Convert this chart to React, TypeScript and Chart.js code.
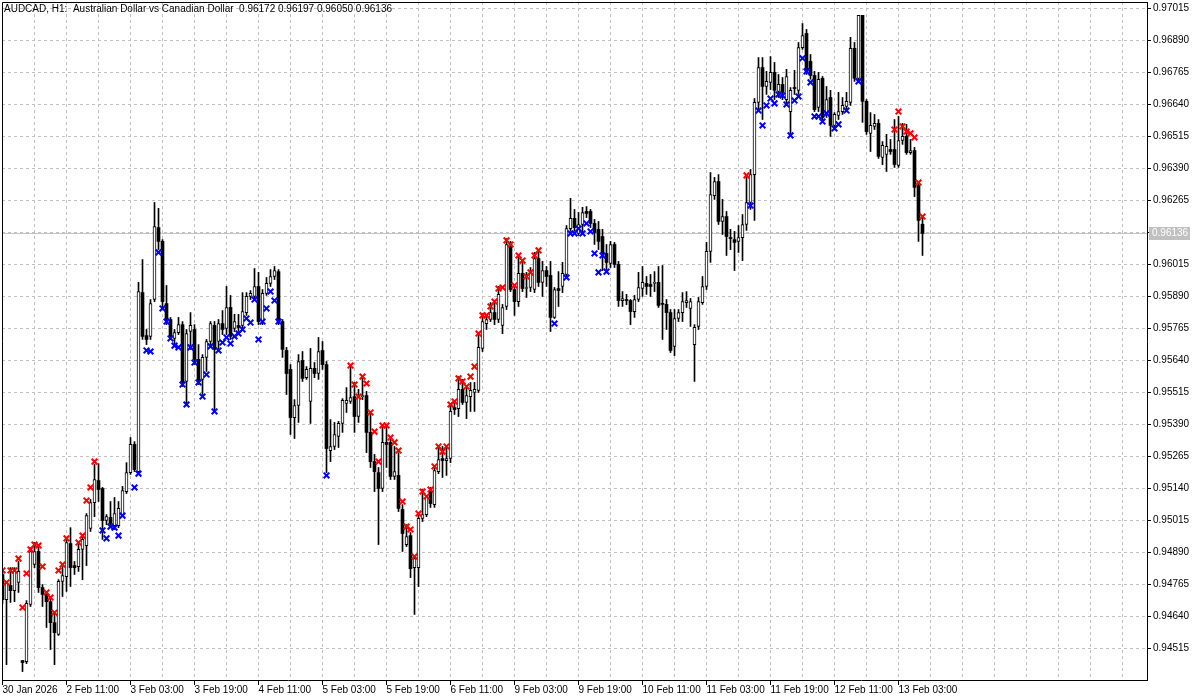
import React, { useEffect, useRef } from "react";
import { Chart, registerables } from "chart.js";

Chart.register(...registerables);

// ---- Chart texts ----
const chartTitle =
  "AUDCAD, H1:  Australian Dollar vs Canadian Dollar  0.96172 0.96197 0.96050 0.96136";
const lastPrice = 0.96136;

// Date labels, one every 16 H1 bars starting at bar 0
const timeLabels = [
  "30 Jan 2026", "2 Feb 11:00", "3 Feb 03:00", "3 Feb 19:00", "4 Feb 11:00",
  "5 Feb 03:00", "5 Feb 19:00", "6 Feb 11:00", "9 Feb 03:00", "9 Feb 19:00",
  "10 Feb 11:00", "11 Feb 03:00", "11 Feb 19:00", "12 Feb 11:00", "13 Feb 03:00",
];

// Price axis tick values
const priceTicks = [
  0.94515, 0.9464, 0.94765, 0.9489, 0.95015, 0.9514, 0.95265, 0.9539, 0.95515,
  0.9564, 0.95765, 0.9589, 0.96015, 0.9614, 0.96265, 0.9639, 0.96515, 0.9664,
  0.96765, 0.9689, 0.97015,
];

// ---- OHLC series (H1 bars, oldest first) ----
const opens = [
  0.94804, 0.94706, 0.94761, 0.94741, 0.94773, 0.94468, 0.94464, 0.94687, 0.94843, 0.94894,
  0.94753, 0.94726, 0.94698, 0.94616, 0.9457, 0.94777, 0.94796, 0.94925, 0.94839, 0.94835,
  0.94902, 0.94917, 0.94984, 0.95085, 0.95171, 0.9514, 0.95015, 0.95027, 0.94995, 0.94995,
  0.95038, 0.95128, 0.95202, 0.95312, 0.95206, 0.95905, 0.95737, 0.95734, 0.95878, 0.96159,
  0.96105, 0.95862, 0.958, 0.95726, 0.95749, 0.9578, 0.95558, 0.95753, 0.95761, 0.95644,
  0.95566, 0.95652, 0.95714, 0.95777, 0.95714, 0.95784, 0.95765, 0.95847, 0.95765, 0.95777,
  0.95777, 0.95827, 0.9589, 0.9589, 0.95929, 0.95792, 0.95902, 0.95941, 0.95968, 0.95987,
  0.95792, 0.95679, 0.95605, 0.95417, 0.95464, 0.9564, 0.95573, 0.9548, 0.95609, 0.95589,
  0.95679, 0.95624, 0.95288, 0.95304, 0.95343, 0.95394, 0.95472, 0.9548, 0.95499, 0.95421,
  0.95499, 0.95503, 0.95359, 0.95245, 0.95202, 0.9514, 0.9532, 0.9532, 0.95187, 0.95191,
  0.95058, 0.94921, 0.94956, 0.94831, 0.94831, 0.95023, 0.95038, 0.95128, 0.95077, 0.95206,
  0.95257, 0.95249, 0.95257, 0.95456, 0.95452, 0.95527, 0.95476, 0.95499, 0.95515, 0.95523,
  0.95687, 0.95784, 0.958, 0.95827, 0.958, 0.95777, 0.95851, 0.96093, 0.95917, 0.9587,
  0.9598, 0.95921, 0.95925, 0.95917, 0.96038, 0.95945, 0.95991, 0.95972, 0.95808, 0.95921,
  0.95929, 0.95976, 0.96155, 0.96195, 0.96136, 0.96171, 0.96222, 0.96222, 0.96175, 0.96152,
  0.96124, 0.96058, 0.96019, 0.96093, 0.96015, 0.95874, 0.95878, 0.95874, 0.95831, 0.95878,
  0.95921, 0.95941, 0.95937, 0.95941, 0.95945, 0.95862, 0.95859, 0.95827, 0.95695, 0.95804,
  0.95827, 0.95866, 0.95843, 0.95702, 0.95773, 0.95866, 0.95929, 0.96066, 0.96284, 0.96339,
  0.96183, 0.96202, 0.9612, 0.96112, 0.96105, 0.9612, 0.96171, 0.96257, 0.96366, 0.96648,
  0.96784, 0.9671, 0.96726, 0.96765, 0.96691, 0.96718, 0.96659, 0.96612, 0.96706, 0.96695,
  0.96862, 0.96917, 0.96808, 0.96753, 0.96628, 0.96742, 0.96608, 0.96667, 0.96558, 0.96597,
  0.96612, 0.96632, 0.96648, 0.96859, 0.96742, 0.96988, 0.96652, 0.96527, 0.96554, 0.96566,
  0.96433, 0.96445, 0.96464, 0.96464, 0.96402, 0.96499, 0.96515, 0.96452, 0.9646, 0.96323,
  0.96172,
];

const highs = [
  0.94823, 0.94777, 0.94831, 0.94831, 0.94855, 0.94468, 0.94702, 0.94909, 0.94929, 0.94913,
  0.94765, 0.94738, 0.94714, 0.94659, 0.94784, 0.94835, 0.94941, 0.94987, 0.94855, 0.94929,
  0.94956, 0.95042, 0.95097, 0.95234, 0.95237, 0.95144, 0.95038, 0.95089, 0.95105, 0.95089,
  0.95148, 0.95241, 0.95339, 0.95323, 0.95945, 0.96034, 0.95761, 0.95878, 0.96257, 0.96234,
  0.96112, 0.95933, 0.95808, 0.95761, 0.95808, 0.95792, 0.95761, 0.95827, 0.9578, 0.95702,
  0.95663, 0.95722, 0.95792, 0.95792, 0.958, 0.95835, 0.95929, 0.95894, 0.9582, 0.9582,
  0.95905, 0.95905, 0.95913, 0.95999, 0.95984, 0.95917, 0.95964, 0.95995, 0.96007, 0.95995,
  0.958, 0.95691, 0.95624, 0.95487, 0.95663, 0.95675, 0.95616, 0.95687, 0.95632, 0.9573,
  0.95714, 0.95636, 0.95409, 0.95398, 0.95402, 0.95491, 0.95534, 0.95616, 0.95554, 0.95527,
  0.95577, 0.95519, 0.95429, 0.95273, 0.95222, 0.9539, 0.95382, 0.95339, 0.95304, 0.9528,
  0.95077, 0.94999, 0.94968, 0.94878, 0.95038, 0.95136, 0.95112, 0.95144, 0.95226, 0.95304,
  0.95304, 0.95304, 0.95468, 0.9548, 0.95577, 0.95566, 0.95534, 0.95554, 0.95554, 0.95749,
  0.95823, 0.95812, 0.95866, 0.95866, 0.95929, 0.95859, 0.96116, 0.96105, 0.95933, 0.96046,
  0.96023, 0.95984, 0.96003, 0.96062, 0.96066, 0.96027, 0.96007, 0.96027, 0.95925, 0.95987,
  0.96023, 0.96167, 0.96273, 0.9623, 0.96218, 0.96238, 0.96241, 0.9623, 0.96191, 0.96183,
  0.96152, 0.96093, 0.96105, 0.96101, 0.96027, 0.95909, 0.95898, 0.95878, 0.95894, 0.95984,
  0.96007, 0.95968, 0.95976, 0.95987, 0.96007, 0.96011, 0.95878, 0.95839, 0.95839, 0.95839,
  0.95905, 0.95909, 0.95882, 0.9578, 0.95886, 0.95968, 0.96101, 0.96374, 0.96355, 0.96366,
  0.96269, 0.96222, 0.96152, 0.96144, 0.96167, 0.9621, 0.96363, 0.96386, 0.96663, 0.96823,
  0.96823, 0.96769, 0.96827, 0.96804, 0.96757, 0.96745, 0.96777, 0.96706, 0.96773, 0.96882,
  0.96956, 0.96933, 0.96835, 0.96769, 0.96765, 0.96749, 0.9671, 0.96695, 0.96608, 0.96687,
  0.96667, 0.96687, 0.96902, 0.96882, 0.96988, 0.96988, 0.96659, 0.96608, 0.96601, 0.96581,
  0.96495, 0.96523, 0.96503, 0.96581, 0.96593, 0.96566, 0.96562, 0.96503, 0.96472, 0.96335,
  0.96197,
];

const lows = [
  0.94691, 0.94452, 0.94695, 0.94698, 0.94734, 0.94425, 0.94456, 0.94679, 0.94831, 0.94734,
  0.94679, 0.94597, 0.94511, 0.94452, 0.94566, 0.94718, 0.94738, 0.94757, 0.94804, 0.94816,
  0.94784, 0.94839, 0.94972, 0.9503, 0.95089, 0.94941, 0.94999, 0.94991, 0.9498, 0.94987,
  0.9503, 0.9512, 0.95195, 0.95206, 0.95198, 0.95722, 0.95702, 0.95722, 0.9587, 0.96073,
  0.95839, 0.9578, 0.95722, 0.95702, 0.95741, 0.95538, 0.95468, 0.95683, 0.95624, 0.95546,
  0.95507, 0.95597, 0.95702, 0.95437, 0.95675, 0.95741, 0.95741, 0.95722, 0.95753, 0.95753,
  0.95761, 0.95816, 0.95878, 0.95878, 0.9578, 0.9578, 0.95894, 0.95929, 0.95956, 0.9578,
  0.95652, 0.95507, 0.95351, 0.95335, 0.95398, 0.95558, 0.95566, 0.95394, 0.95573, 0.95566,
  0.95605, 0.95202, 0.95245, 0.95292, 0.953, 0.95359, 0.95437, 0.95472, 0.95359, 0.95398,
  0.95487, 0.9528, 0.95222, 0.95128, 0.94921, 0.95128, 0.95222, 0.95175, 0.95175, 0.9505,
  0.94894, 0.94913, 0.94792, 0.94648, 0.94757, 0.95011, 0.9503, 0.95066, 0.95066, 0.95198,
  0.95183, 0.95191, 0.95241, 0.95429, 0.95421, 0.95468, 0.95413, 0.95441, 0.95441, 0.95515,
  0.95675, 0.95761, 0.95792, 0.9578, 0.95788, 0.95745, 0.95839, 0.95909, 0.95816, 0.95851,
  0.95909, 0.95886, 0.95909, 0.95905, 0.95929, 0.9589, 0.95929, 0.95753, 0.95804, 0.95851,
  0.95905, 0.95964, 0.96144, 0.96144, 0.96128, 0.96132, 0.96198, 0.96159, 0.96093, 0.96073,
  0.95991, 0.95995, 0.96003, 0.96003, 0.95851, 0.95851, 0.95858, 0.9578, 0.95808, 0.9587,
  0.9589, 0.95898, 0.9589, 0.95909, 0.95847, 0.95722, 0.95761, 0.95671, 0.95659, 0.95792,
  0.95792, 0.95847, 0.95773, 0.95558, 0.95761, 0.95859, 0.95917, 0.96023, 0.96269, 0.96171,
  0.96132, 0.9605, 0.96073, 0.95991, 0.96062, 0.9603, 0.96148, 0.9623, 0.96187, 0.9662,
  0.96581, 0.96679, 0.96698, 0.96659, 0.96667, 0.96659, 0.9664, 0.96519, 0.96679, 0.96679,
  0.96855, 0.96757, 0.96738, 0.96612, 0.96612, 0.96577, 0.96589, 0.96515, 0.96542, 0.96581,
  0.96601, 0.9662, 0.96636, 0.9673, 0.9673, 0.9657, 0.96523, 0.96456, 0.96542, 0.96429,
  0.96405, 0.96378, 0.96445, 0.96394, 0.96394, 0.96484, 0.96445, 0.96445, 0.9628, 0.96105,
  0.9605,
];

const closes = [
  0.94706, 0.94773, 0.94741, 0.94816, 0.94816, 0.9446, 0.94691, 0.94894, 0.94894, 0.94753,
  0.94726, 0.94698, 0.94616, 0.94577, 0.94777, 0.948, 0.94929, 0.94831, 0.94831, 0.94902,
  0.94941, 0.95034, 0.95085, 0.95175, 0.95136, 0.95015, 0.9503, 0.95003, 0.95042, 0.95062,
  0.95132, 0.95202, 0.95312, 0.95214, 0.95909, 0.95734, 0.95722, 0.95862, 0.96163, 0.96105,
  0.9587, 0.958, 0.95734, 0.95749, 0.9578, 0.95554, 0.95745, 0.95777, 0.95644, 0.95558,
  0.95652, 0.95714, 0.95784, 0.95683, 0.95784, 0.95761, 0.95847, 0.95734, 0.95792, 0.95769,
  0.95831, 0.9589, 0.95902, 0.95929, 0.95792, 0.95902, 0.95941, 0.95968, 0.95991, 0.95792,
  0.95683, 0.95589, 0.95417, 0.95464, 0.95636, 0.9557, 0.95605, 0.95609, 0.95589, 0.95675,
  0.95624, 0.95296, 0.95304, 0.95351, 0.95394, 0.95484, 0.95484, 0.95495, 0.95421, 0.95495,
  0.95503, 0.95359, 0.95245, 0.95206, 0.9514, 0.9532, 0.95312, 0.95187, 0.95206, 0.95062,
  0.94964, 0.94952, 0.94827, 0.94866, 0.95023, 0.95038, 0.95105, 0.95081, 0.9521, 0.95253,
  0.95249, 0.95257, 0.95441, 0.95448, 0.95527, 0.95476, 0.95503, 0.95523, 0.95527, 0.95691,
  0.95792, 0.958, 0.95827, 0.958, 0.95898, 0.95847, 0.96093, 0.95917, 0.9587, 0.9598,
  0.95921, 0.95925, 0.95984, 0.96038, 0.95945, 0.95991, 0.95968, 0.95808, 0.95917, 0.95913,
  0.9598, 0.96155, 0.96195, 0.96159, 0.96171, 0.96218, 0.96214, 0.96175, 0.9614, 0.96105,
  0.96058, 0.96023, 0.96093, 0.96015, 0.95874, 0.95882, 0.95874, 0.95831, 0.95878, 0.95925,
  0.95945, 0.95929, 0.95929, 0.95945, 0.95855, 0.95859, 0.95827, 0.95679, 0.95804, 0.95827,
  0.9587, 0.95874, 0.9587, 0.95769, 0.9587, 0.95929, 0.96066, 0.96288, 0.96339, 0.96183,
  0.96202, 0.96124, 0.96116, 0.96101, 0.9612, 0.96171, 0.96257, 0.96366, 0.96648, 0.96784,
  0.9671, 0.9673, 0.96765, 0.96695, 0.96718, 0.96687, 0.96749, 0.96695, 0.96702, 0.96862,
  0.96909, 0.96769, 0.96753, 0.9662, 0.96738, 0.96589, 0.96659, 0.96558, 0.96601, 0.96612,
  0.96636, 0.96652, 0.96859, 0.96742, 0.96988, 0.96652, 0.96534, 0.96558, 0.96566, 0.96437,
  0.9648, 0.96476, 0.96456, 0.96405, 0.96499, 0.96515, 0.96452, 0.9646, 0.96316, 0.96187,
  0.96136,
];

// ---- Indicator markers (red / blue crosses) ----
const redBars = [
  0, 1, 2, 3, 4, 5, 6, 7, 8, 9, 10, 11, 12, 13, 14, 15, 16, 19, 20, 21, 22, 23,
  87, 88, 89, 90, 91, 92, 93, 94, 95, 96, 97, 98, 99, 100, 101, 102, 103, 104, 105, 106,
  107, 108, 109, 110, 111, 112, 113, 114, 115, 116, 117, 118, 119, 120, 121, 122, 123,
  124, 125, 126, 127, 128, 129, 130, 131, 132, 133, 134,
  186,
  223, 224, 225, 226, 227, 228, 229, 230,
];
const redLevels = [
  0.9482, 0.94773, 0.9482, 0.9482, 0.94866, 0.94675, 0.94808, 0.94902, 0.94921, 0.94917,
  0.94835, 0.94734, 0.94714, 0.94655, 0.9482, 0.94843, 0.94945, 0.94929, 0.94956, 0.95093,
  0.95144, 0.95245,
  0.9562, 0.95546, 0.95499, 0.95577, 0.9555, 0.95437, 0.95362, 0.95245, 0.95386, 0.95386,
  0.95339, 0.9532, 0.95288, 0.95089, 0.94991, 0.9498, 0.94874, 0.95042, 0.95128, 0.95109,
  0.95136, 0.95226, 0.95304, 0.95284, 0.95304, 0.95468, 0.9548, 0.9557, 0.95558, 0.95538,
  0.95577, 0.95616, 0.95745, 0.95816, 0.95816, 0.95851, 0.9587, 0.95921, 0.95925, 0.96109,
  0.96093, 0.95933, 0.9605, 0.9603, 0.95968, 0.95984, 0.9605, 0.9607,
  0.96363,
  0.96542, 0.96612, 0.96554, 0.96534, 0.96527, 0.96511, 0.96335, 0.96202,
];

const blueBars = [
  25, 26, 27, 28, 29, 30, 33, 34, 36, 37, 39, 40, 41, 42, 43, 44, 45, 46, 47, 48, 49, 50,
  51, 52, 53, 54, 55, 56, 57, 58, 59, 60, 61, 62, 63, 64, 65, 66, 67, 68, 69, 81,
  138, 141, 142, 143, 144, 145, 146, 147, 148, 149, 150, 151,
  187, 189, 190, 191, 192, 193, 194, 195, 196, 197, 198, 199, 200, 201, 202, 203, 204,
  205, 206, 208, 209, 211, 214,
];
const blueLevels = [
  0.94976, 0.94945, 0.94991, 0.94987, 0.94956, 0.95034, 0.95144, 0.95198, 0.95679, 0.95675,
  0.96062, 0.95843, 0.95792, 0.95726, 0.95698, 0.95691, 0.95546, 0.95468, 0.95691, 0.95632,
  0.95554, 0.95499, 0.95585, 0.95695, 0.95441, 0.95679, 0.9571, 0.9573, 0.95706, 0.95734,
  0.95745, 0.95761, 0.95804, 0.95788, 0.95878, 0.95722, 0.95792, 0.95843, 0.95909, 0.95874,
  0.95792, 0.95191,
  0.95784, 0.95964, 0.96136, 0.96136, 0.96155, 0.96136, 0.96175, 0.96144, 0.96058, 0.95984,
  0.9605, 0.95987,
  0.96245, 0.96616, 0.96558, 0.96636, 0.96663, 0.96644, 0.96679, 0.96675, 0.9664, 0.96519,
  0.96655, 0.96671, 0.9682, 0.96769, 0.96726, 0.96593, 0.96593, 0.96573, 0.96605, 0.96546,
  0.96562, 0.96616, 0.9673,
];

// ---- view window ----
const X_MIN = -0.125;
const X_MAX = 286.125;
const Y_MIN = 0.94392;
const Y_MAX = 0.9704;
const FONT_FAMILY = "'Liberation Sans', Arial, sans-serif";
const FONT_SIZE = 10;

export default function App() {
  const canvasRef = useRef<HTMLCanvasElement | null>(null);

  useEffect(() => {
    document.body.style.margin = "0";
    const canvas = canvasRef.current;
    if (!canvas) return;

    const wicks: any[] = [];
    const upBodies: any[] = [];
    const downBodies: any[] = [];
    for (let i = 0; i < closes.length; i++) {
      wicks.push({ x: i, y: [lows[i], highs[i]] });
      if (closes[i] >= opens[i]) upBodies.push({ x: i, y: [opens[i], closes[i]] });
      else downBodies.push({ x: i, y: [closes[i], opens[i]] });
    }
    const redPts = redBars.map((b, k) => ({ x: b, y: redLevels[k] }));
    const bluePts = blueBars.map((b, k) => ({ x: b, y: blueLevels[k] }));
    const gridBars: number[] = [];
    for (let v = 0; v <= X_MAX; v += 8) gridBars.push(v);
    const labelled = (v: number) => v % 16 === 0 && v / 16 < timeLabels.length;

    const framePlugin = {
      id: "mtFrame",
      afterDraw(chart: any) {
        const { ctx, chartArea: a, scales } = chart;
        ctx.save();
        ctx.strokeStyle = "#000";
        ctx.lineWidth = 1;
        ctx.beginPath();
        ctx.moveTo(a.left + 0.5, a.bottom);
        ctx.lineTo(a.left + 0.5, a.top + 0.5);
        ctx.lineTo(a.right, a.top + 0.5);
        ctx.stroke();

        // current price tag on the axis
        const py = Math.round(scales.y.getPixelForValue(lastPrice));
        ctx.fillStyle = "#c0c0c0";
        ctx.fillRect(a.right + 2, py - 6, 41, 13);
        ctx.fillStyle = "#ffffff";
        ctx.font = `${FONT_SIZE}px ${FONT_FAMILY}`;
        ctx.textBaseline = "middle";
        ctx.textAlign = "left";
        ctx.fillText(lastPrice.toFixed(5), a.right + 5, py + 0.5);

        // title
        ctx.fillStyle = "#000";
        ctx.fillText(chartTitle, a.left + 2, a.top + 7);
        ctx.restore();
      },
    };

    const chart = new Chart(canvas, {
      type: "bar",
      data: {
        datasets: [
          {
            type: "line",
            label: "red",
            data: redPts,
            showLine: false,
            pointStyle: "crossRot",
            pointRadius: 4,
            pointHoverRadius: 4,
            pointBorderWidth: 2,
            pointBorderColor: "#ff0000",
            pointBackgroundColor: "#ff0000",
            borderColor: "#ff0000",
            order: 0,
          } as any,
          {
            type: "line",
            label: "blue",
            data: bluePts,
            showLine: false,
            pointStyle: "crossRot",
            pointRadius: 4,
            pointHoverRadius: 4,
            pointBorderWidth: 2,
            pointBorderColor: "#0000ff",
            pointBackgroundColor: "#0000ff",
            borderColor: "#0000ff",
            order: 1,
          } as any,
          {
            type: "bar",
            label: "up",
            data: upBodies,
            backgroundColor: "#ffffff",
            borderColor: "#000000",
            borderWidth: 1,
            borderSkipped: false,
            barThickness: 3,
            maxBarThickness: 3,
            grouped: false,
            minBarLength: 1,
            order: 2,
          } as any,
          {
            type: "bar",
            label: "down",
            data: downBodies,
            backgroundColor: "#000000",
            borderColor: "#000000",
            borderWidth: 0,
            borderSkipped: false,
            barThickness: 3,
            maxBarThickness: 3,
            grouped: false,
            minBarLength: 1,
            order: 3,
          } as any,
          {
            type: "bar",
            label: "wick",
            data: wicks,
            backgroundColor: "#000000",
            borderWidth: 0,
            barThickness: 1,
            maxBarThickness: 1,
            grouped: false,
            order: 4,
          } as any,
          {
            type: "line",
            label: "price",
            data: [
              { x: X_MIN, y: lastPrice },
              { x: X_MAX, y: lastPrice },
            ],
            borderColor: "#c0c0c0",
            borderWidth: 1,
            pointRadius: 0,
            order: 5,
          } as any,
        ],
      },
      options: {
        responsive: false,
        animation: false,
        devicePixelRatio: 1,
        events: [],
        layout: { autoPadding: false, padding: { left: 2, top: 2, right: 0, bottom: 0 } },
        plugins: {
          legend: { display: false },
          tooltip: { enabled: false },
          title: { display: false },
        },
        scales: {
          x: {
            type: "linear",
            min: X_MIN,
            max: X_MAX,
            offset: false,
            afterBuildTicks: (s: any) => {
              s.ticks = gridBars.map((v) => ({ value: v }));
            },
            afterFit: (s: any) => {
              s.height = 20;
              s.paddingLeft = 0;
              s.paddingRight = 0;
              s.paddingTop = 0;
              s.paddingBottom = 0;
            },
            grid: {
              offset: false,
              color: "#c0c0c0",
              lineWidth: 1,
              drawTicks: true,
              tickLength: 5,
              tickColor: (c: any) =>
                c.tick && labelled(c.tick.value) ? "#000000" : "rgba(0,0,0,0)",
            },
            border: { display: true, color: "#000", width: 1, dash: [3, 3] },
            ticks: {
              autoSkip: false,
              maxRotation: 0,
              minRotation: 0,
              align: "start",
              padding: -1,
              labelOffset: 0,
              color: "#000",
              font: { family: FONT_FAMILY, size: FONT_SIZE },
              callback: (v: any) => {
                const n = Number(v);
                return labelled(n) ? timeLabels[n / 16] : "";
              },
            },
          },
          y: {
            type: "linear",
            position: "right",
            min: Y_MIN,
            max: Y_MAX,
            beginAtZero: false,
            afterBuildTicks: (s: any) => {
              s.ticks = priceTicks.map((v) => ({ value: v }));
            },
            afterFit: (s: any) => {
              s.width = 53;
              s.paddingTop = 0;
              s.paddingBottom = 0;
              s.paddingLeft = 0;
              s.paddingRight = 0;
            },
            grid: {
              color: "#c0c0c0",
              lineWidth: 1,
              drawTicks: true,
              tickLength: 4,
              tickColor: "#000000",
            },
            border: { display: true, color: "#000", width: 1, dash: [3, 3] },
            ticks: {
              padding: 2,
              color: "#000",
              font: { family: FONT_FAMILY, size: FONT_SIZE },
              callback: (v: any) => Number(v).toFixed(5),
            },
          },
        },
      } as any,
      plugins: [framePlugin],
    });

    return () => chart.destroy();
  }, []);

  return (
    <div style={{ width: 1200, height: 700, background: "#fff" }}>
      <canvas ref={canvasRef} width={1200} height={700} style={{ display: "block" }} />
    </div>
  );
}
